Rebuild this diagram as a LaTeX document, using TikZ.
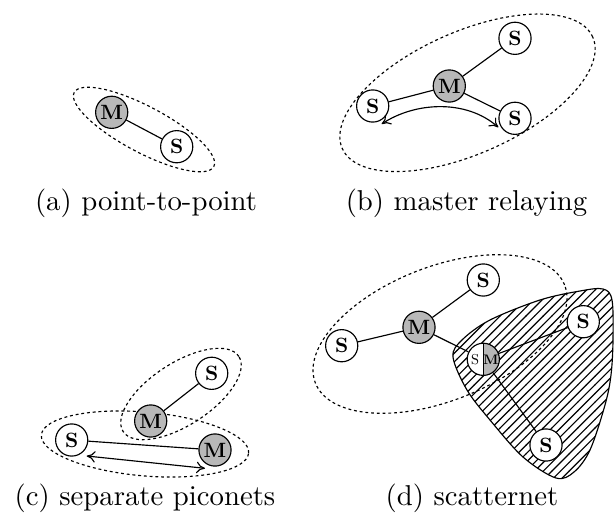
\documentclass[tikz,border=0pt]{standalone}
\usepackage{fontspec}
\newfontfamily\lmten{lmroman10-regular.otf}[BoldFont=lmroman10-bold.otf]
\usetikzlibrary{arrows.meta,patterns}
\definecolor{mgray}{gray}{0.72}
\begin{document}
\begin{tikzpicture}[x=0.348pt,y=-0.348pt,
  dev/.style={circle,draw,line width=0.4pt,minimum size=11.2pt,inner sep=0pt,font=\lmten\fontsize{7.2}{8}\selectfont\bfseries},
  mst/.style={dev,fill=mgray},
  slv/.style={dev,fill=white},
  net/.style={draw,line width=0.4pt,dash pattern=on 1pt off 1pt},
  link/.style={line width=0.4pt},
  captxt/.style={anchor=base,font=\fontsize{10}{12}\selectfont},
  dbl/.style={line width=0.4pt,{To[length=3pt,width=4pt]}-{To[length=3pt,width=4pt]}},
  tinyr/.style={font=\lmten\fontsize{5}{6}\selectfont,inner sep=0pt},
  tinyb/.style={font=\lmten\fontsize{4.8}{5}\selectfont\bfseries,inner sep=0pt}
]
\useasboundingbox (0,0) rectangle (614,523);

% ---------- (a) point-to-point
\draw[net] (144,129.5) ellipse [x radius=27.5pt, y radius=8pt, rotate=-28];
\node[mst] (aM) at (111.7,112.3) {M};
\node[slv] (aS) at (176.7,146.7) {S};
\draw[link] (aM) -- (aS);
\node[captxt] (capa) at (146,210) {(a) point-to-point};

% ---------- (b) master relaying
\draw[net] (467.5,92.8) ellipse [x radius=47.7pt, y radius=21.2pt, rotate=24];
\node[mst] (bM) at (449.3,86) {M};
\node[slv] (bS1) at (515,38.3) {S};
\node[slv] (bS2) at (372.7,106) {S};
\node[slv] (bS3) at (515,118.3) {S};
\draw[link] (bM) -- (bS1);
\draw[link] (bM) -- (bS2);
\draw[link] (bM) -- (bS3);
\coordinate (bA1) at (381.7,124);
\coordinate (bA2) at (498.3,127.3);
\draw[dbl] (bA1) .. controls (415,102) and (466,99) .. (bA2);
\node[captxt] (capb) at (466.5,210) {(b) master relaying};

% ---------- (c) separate piconets
\draw[net] (181,394) ellipse [x radius=24pt, y radius=10.8pt, rotate=33];
\draw[net] (145,444) ellipse [x radius=36.2pt, y radius=11.1pt, rotate=-5];
\node[slv] (cS1) at (211.7,373.3) {S};
\node[mst] (cM1) at (150.7,421) {M};
\node[slv] (cS2) at (71.7,440) {S};
\node[mst] (cM2) at (215,450) {M};
\draw[link] (cM1) -- (cS1);
\draw[link] (cS2) -- (cM2);
\coordinate (cA1) at (86.7,456);
\coordinate (cA2) at (205,468.3);
\draw[dbl] (cA1) -- (cA2);
\node[captxt] (capc) at (145,505) {(c) separate piconets};

% ---------- (d) scatternet
\draw[net] (440,334) ellipse [x radius=46.6pt, y radius=23.3pt, rotate=21.5];
\draw[line width=0.4pt,pattern=north east lines]
  plot[smooth cycle,tension=0.55] coordinates {
  (453,357) (462,340) (490,320) (540,300) (580,291) (603,289) (612,300)
  (613,340) (611,375) (605,405) (590,450) (574,472) (556,478) (523,457)
  (490,420) (467,390)};
\node[slv] (dS1) at (483.3,280) {S};
\node[mst] (dM) at (419,327.3) {M};
\node[slv] (dS2) at (341.7,345.7) {S};
\node[slv,path picture={
   \fill[mgray] (path picture bounding box.north) rectangle (path picture bounding box.south east);
   \draw[line width=0.4pt] (path picture bounding box.north) -- (path picture bounding box.south);}]
   (dSM) at (483.3,359.3) {};
\node[tinyr] (dSMs) at (475,360) {S};
\node[tinyb] (dSMm) at (490.9,360) {M};
\node[slv] (dS3) at (583.3,321.7) {S};
\node[slv] (dS4) at (546,445) {S};
\draw[link] (dM) -- (dS1);
\draw[link] (dM) -- (dS2);
\draw[link] (dM) -- (dSM);
\draw[link] (dSM) -- (dS3);
\draw[link] (dSM) -- (dS4);
\node[captxt] (capd) at (472,505) {(d) scatternet};
\end{tikzpicture}
\end{document}
